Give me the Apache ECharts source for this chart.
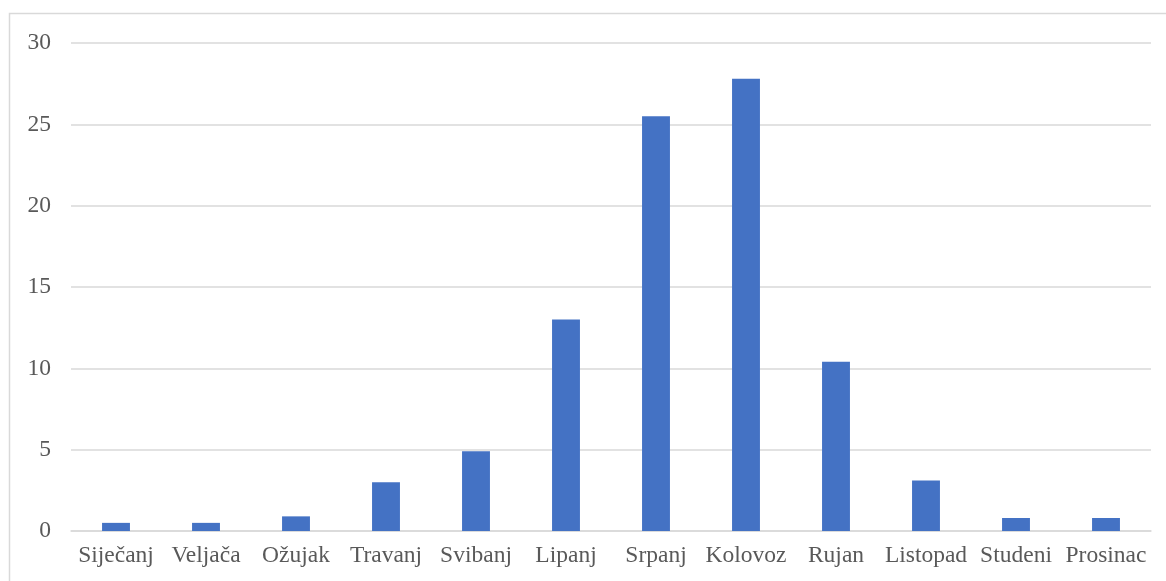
<!DOCTYPE html>
<html>
<head>
<meta charset="utf-8">
<script src="https://cdn.jsdelivr.net/npm/echarts@6/dist/echarts.min.js"></script>
<style>
html,body{margin:0;padding:0;background:#fff;}
#c{width:1166px;height:581px;}
</style>
</head>
<body>
<div id="c"></div>
<script>
const categories = ['Siječanj','Veljača','Ožujak','Travanj','Svibanj','Lipanj','Srpanj','Kolovoz','Rujan','Listopad','Studeni','Prosinac'];
const values = [0.5, 0.5, 0.9, 3.0, 4.9, 13.0, 25.5, 27.8, 10.4, 3.1, 0.8, 0.8];

const chart = echarts.init(document.getElementById('c'), null, {renderer:'canvas'});
const font = '"Liberation Serif","DejaVu Serif",serif';
chart.setOption({
  animation:false,
  backgroundColor:'#fff',
  graphic:[{
    type:'rect', silent:true, z:-1,
    shape:{x:9.5,y:13.5,width:1170,height:600},
    style:{fill:'none',stroke:'#d9d9d9',lineWidth:1.5}
  }],
  grid:{left:71,right:15,top:43,bottom:50,containLabel:false},
  xAxis:{
    type:'category', data:categories,
    axisLine:{show:true,lineStyle:{color:'#d9d9d9',width:1.5}},
    axisTick:{show:false},
    axisLabel:{color:'#595959',fontFamily:font,fontSize:23.5,margin:13,interval:0}
  },
  yAxis:{
    type:'value', min:0, max:30, interval:5,
    axisLine:{show:false}, axisTick:{show:false},
    splitLine:{lineStyle:{color:'#d9d9d9',width:1.5}},
    axisLabel:{color:'#595959',fontFamily:font,fontSize:23.5,margin:20}
  },
  series:[{
    type:'bar', data:values, barWidth:'31%',
    itemStyle:{color:'#4472C4'}
  }]
});
</script>
</body>
</html>
